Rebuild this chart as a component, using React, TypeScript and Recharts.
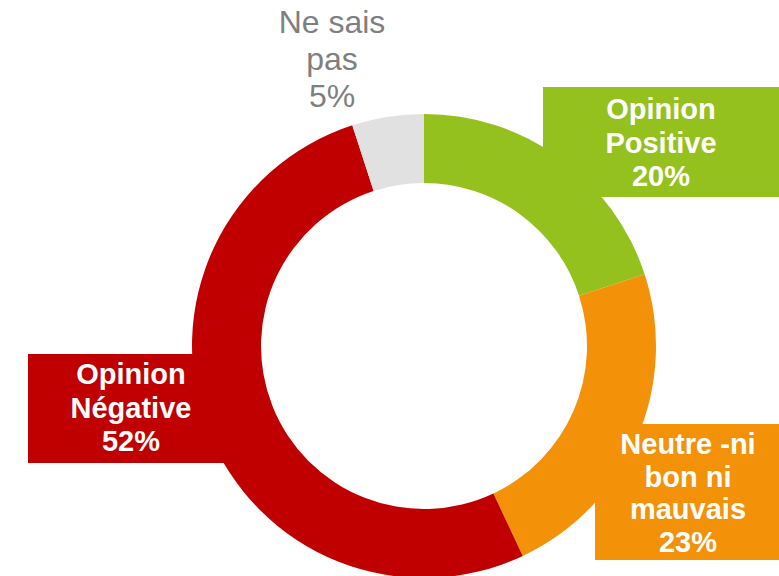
import { PieChart, Pie, Cell } from "recharts";

// survey answers, clockwise from the top
const categories = ["Opinion Positive", "Neutre -ni bon ni mauvais", "Opinion Négative", "Ne sais pas"];
const values = [20, 23, 52, 5];
const labelLines = [
  ["Opinion", "Positive"],
  ["Neutre -ni", "bon ni", "mauvais"],
  ["Opinion", "Négative"],
  ["Ne sais", "pas"],
];

const colors = ["#95C11F", "#F39208", "#C00000", "#E1E1E1"];

// label placement relative to the donut centre (box: null = plain text)
const labelLayout = [
  { box: { dx: 119, dy: -259, w: 250, h: 110 }, tx: 237, ty: -227, lh: 33.5, size: 29, bold: true, color: "#fff" },
  { box: { dx: 171, dy: 78, w: 220, h: 136 }, tx: 264, ty: 108, lh: 32.5, size: 29, bold: true, color: "#fff" },
  { box: { dx: -396, dy: 8, w: 206, h: 109 }, tx: -293, ty: 38, lh: 33.5, size: 29, bold: true, color: "#fff" },
  { box: null, tx: -92, ty: -313, lh: 37, size: 32, bold: false, color: "#7F7F7F" },
];

const data = categories.map((name, i) => ({ name, value: values[i] }));

const renderLabel = (props: any) => {
  const { cx, cy, index } = props;
  const l = labelLayout[index];
  const lines = [...labelLines[index], `${values[index]}%`];
  return (
    <g key={`lbl-${index}`}>
      {l.box && (
        <rect
          x={cx + l.box.dx}
          y={cy + l.box.dy}
          width={l.box.w}
          height={l.box.h}
          fill={colors[index]}
        />
      )}
      <text
        x={cx + l.tx}
        y={cy + l.ty}
        textAnchor="middle"
        fill={l.color}
        fontSize={l.size}
        fontWeight={l.bold ? "bold" : "normal"}
        fontFamily="'Liberation Sans', Arial, sans-serif"
      >
        {lines.map((t, i) => (
          <tspan key={i} x={cx + l.tx} y={cy + l.ty + i * l.lh}>
            {t}
          </tspan>
        ))}
      </text>
    </g>
  );
};

export default function App() {
  return (
    <div style={{ position: "absolute", left: 0, top: 0, width: 779, height: 576, background: "#fff", overflow: "hidden" }}>
      <PieChart width={779} height={576} margin={{ top: 0, right: 0, bottom: 0, left: 0 }}>
        <Pie
          data={data}
          dataKey="value"
          nameKey="name"
          cx={424}
          cy={346}
          innerRadius={163}
          outerRadius={232}
          startAngle={90}
          endAngle={-270}
          stroke="none"
          label={renderLabel}
          labelLine={false}
          isAnimationActive={false}
        >
          {data.map((d, i) => (
            <Cell key={d.name} fill={colors[i]} />
          ))}
        </Pie>
      </PieChart>
    </div>
  );
}
